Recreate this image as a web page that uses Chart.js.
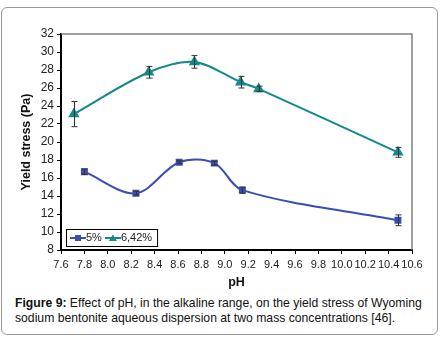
<!DOCTYPE html>
<html>
<head>
<meta charset="utf-8">
<script src="https://cdn.jsdelivr.net/npm/chart.js@4/dist/chart.umd.min.js"></script>
<style>
  body { margin: 0; background: #fff; font-family: Arial, "Liberation Sans", sans-serif; }
  #frame { position: absolute; left: 1px; top: 7px; width: 435px; height: 326px; border: 1px solid #9a9a9a; border-radius: 6px; }
  #wrap { position: absolute; left: 0; top: 0; width: 440px; height: 290px; }
  #caption { position: absolute; left: 15px; top: 296px; width: 420px; font-size: 12.2px; line-height: 14.5px; color: #111; }
</style>
</head>
<body>
<div id="frame"></div>
<div id="wrap"><canvas id="chart" width="440" height="290"></canvas></div>
<div id="caption"><b>Figure 9:</b> Effect of pH, in the alkaline range, on the yield stress of Wyoming sodium bentonite aqueous dispersion at two mass concentrations [46].</div>
<script>
// values
const phLow = [7.80, 8.24, 8.61, 8.91, 9.15, 10.48];
const stressLow = [16.7, 14.3, 17.75, 17.65, 14.65, 11.3];
const errLow = [0.3, 0.2, 0.15, 0.2, 0.35, 0.6];

const phHigh = [7.71, 8.35, 8.74, 9.135, 9.29, 10.48];
const stressHigh = [23.1, 27.75, 28.9, 26.65, 25.9, 18.85];
const errHigh = [1.4, 0.65, 0.7, 0.65, 0.3, 0.55];

const seriesNames = ['5%', '6,42%'];
const seriesColors = ['#3a4db3', '#13898a'];

const pairs = (xs, ys) => xs.map((x, i) => ({x: x, y: ys[i]}));

const errorBars = {
  id: 'errorBars',
  afterDatasetsDraw(chart) {
    const ctx = chart.ctx, xs = chart.scales.x, ys = chart.scales.y;
    const errs = [errLow, errHigh];
    ctx.save();
    ctx.strokeStyle = '#333';
    ctx.lineWidth = 1;
    chart.data.datasets.forEach((ds, d) => {
      ds.data.forEach((p, i) => {
        const px = Math.round(xs.getPixelForValue(p.x)) + 0.5;
        const top = ys.getPixelForValue(p.y + errs[d][i]);
        const bot = ys.getPixelForValue(p.y - errs[d][i]);
        ctx.beginPath();
        ctx.moveTo(px, top); ctx.lineTo(px, bot);
        ctx.moveTo(px - 3, top); ctx.lineTo(px + 3, top);
        ctx.moveTo(px - 3, bot); ctx.lineTo(px + 3, bot);
        ctx.stroke();
      });
    });
    ctx.restore();
  }
};

const frameAndLegend = {
  id: 'frameAndLegend',
  afterDraw(chart) {
    const ctx = chart.ctx, a = chart.chartArea;
    ctx.save();
    // top and right border of plot area
    ctx.strokeStyle = '#808080';
    ctx.lineWidth = 1.5;
    ctx.beginPath();
    ctx.moveTo(a.left, a.top); ctx.lineTo(a.right, a.top); ctx.lineTo(a.right, a.bottom);
    ctx.stroke();
    // legend box
    ctx.font = '11px Arial, "Liberation Sans", sans-serif';
    const lx = 66, ly = 229, lh = 17;
    let lw = 4;
    chart.data.datasets.forEach(ds => { lw += 17 + ctx.measureText(ds.label).width + 2; });
    lw += 2;
    ctx.fillStyle = '#fff';
    ctx.fillRect(lx, ly, lw, lh);
    ctx.strokeStyle = '#000';
    ctx.lineWidth = 1;
    ctx.strokeRect(lx + 0.5, ly + 0.5, lw, lh);
    ctx.textBaseline = 'middle';
    const cy = ly + lh / 2 + 0.5;
    let x = lx + 4;
    chart.data.datasets.forEach((ds, d) => {
      ctx.strokeStyle = ds.borderColor;
      ctx.lineWidth = 2;
      ctx.beginPath(); ctx.moveTo(x, cy); ctx.lineTo(x + 16, cy); ctx.stroke();
      ctx.fillStyle = ds.borderColor;
      if (d === 0) {
        ctx.fillRect(x + 5, cy - 3, 6, 6);
      } else {
        ctx.beginPath();
        ctx.moveTo(x + 8, cy - 3.5); ctx.lineTo(x + 12, cy + 3); ctx.lineTo(x + 4, cy + 3);
        ctx.closePath(); ctx.fill();
      }
      ctx.fillStyle = '#222';
      ctx.fillText(ds.label, x + 16, cy);
      x += 17 + ctx.measureText(ds.label).width + 2;
    });
    ctx.restore();
  }
};

new Chart(document.getElementById('chart'), {
  type: 'line',
  data: {
    datasets: [
      {
        label: seriesNames[0],
        data: pairs(phLow, stressLow),
        borderColor: seriesColors[0],
        backgroundColor: seriesColors[0],
        borderWidth: 2,
        pointStyle: 'rect',
        pointRadius: 3.5,
        tension: 0.33
      },
      {
        label: seriesNames[1],
        data: pairs(phHigh, stressHigh),
        borderColor: seriesColors[1],
        backgroundColor: seriesColors[1],
        borderWidth: 2,
        pointStyle: 'triangle',
        pointRadius: 4.5,
        tension: 0.33
      }
    ]
  },
  options: {
    responsive: false,
    animation: false,
    layout: { padding: { top: 34, right: 28, left: 0, bottom: 0 } },
    plugins: { legend: { display: false }, tooltip: { enabled: false } },
    scales: {
      x: {
        type: 'linear',
        min: 7.6,
        max: 10.6,
        grid: { display: true, drawOnChartArea: false, tickLength: 4, color: '#000' },
        border: { color: '#000', width: 2 },
        ticks: {
          stepSize: 0.2,
          autoSkip: false,
          maxRotation: 0,
          padding: 4,
          color: '#222',
          font: { family: 'Arial, "Liberation Sans", sans-serif', size: 11 },
          callback: v => v.toFixed(1)
        },
        title: {
          display: true,
          text: 'pH',
          color: '#111',
          padding: { top: 0, bottom: 0 },
          font: { family: 'Arial, "Liberation Sans", sans-serif', size: 12.5, weight: 'bold' }
        },
        afterFit(scale) { scale.height = 40; }
      },
      y: {
        min: 8,
        max: 32,
        grid: { display: true, drawOnChartArea: false, tickLength: 4, color: '#000' },
        border: { color: '#000', width: 2 },
        ticks: {
          stepSize: 2,
          padding: 3,
          color: '#222',
          font: { family: 'Arial, "Liberation Sans", sans-serif', size: 12 }
        },
        title: {
          display: true,
          text: 'Yield stress (Pa)',
          color: '#111',
          padding: { top: 19, bottom: 0 },
          font: { family: 'Arial, "Liberation Sans", sans-serif', size: 12.5, weight: 'bold' }
        },
        afterFit(scale) { scale.width = 61; }
      }
    }
  },
  plugins: [errorBars, frameAndLegend]
});
</script>
</body>
</html>
